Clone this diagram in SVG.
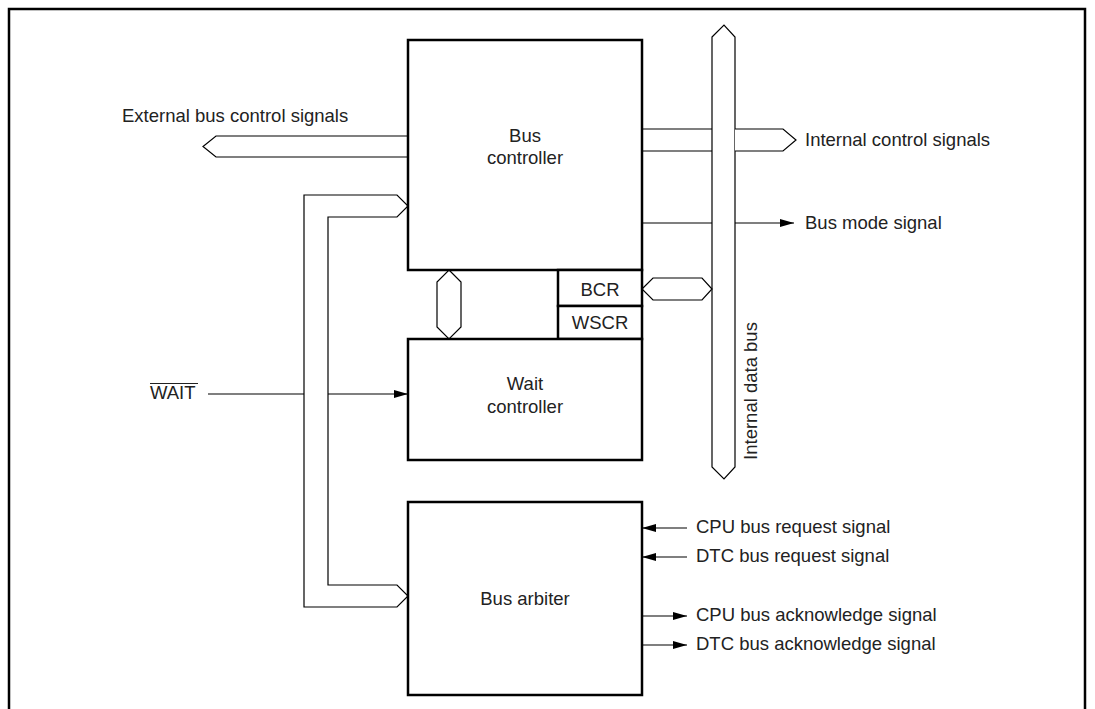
<svg xmlns="http://www.w3.org/2000/svg" width="1095" height="709" viewBox="0 0 1095 709">
<style>
  text { font-family: "Liberation Sans", Arial, sans-serif; font-size: 18.5px; fill: #222; }
  .box { fill: #fff; stroke: #000; stroke-width: 2.5; }
  .thin { fill: none; stroke: #000; stroke-width: 1.2; }
  .bus { fill: #fff; stroke: #000; stroke-width: 1.2; stroke-linejoin: miter; }
  .mid { text-anchor: middle; }
</style>
<defs>
  <marker id="ah" viewBox="0 0 14 8" refX="14" refY="4" markerWidth="14" markerHeight="8" markerUnits="userSpaceOnUse" orient="auto">
    <path d="M0,0 L14,4 L0,8 Z" fill="#000"/>
  </marker>
</defs>
<rect width="1095" height="709" fill="#fff"/>
<path d="M9,709 V9 H1085 V709" fill="none" stroke="#000" stroke-width="2.5"/>

<g id="connectors">
  <!-- internal data bus -->
  <path class="bus" d="M712,37 L724,25 L735,37 L735,467 L724,479 L712,467 Z"/>
  <!-- external bus control signals -->
  <path class="bus" d="M408,136 L216,136 L203,146.5 L216,157 L408,157"/>
  <!-- internal control signals -->
  <path class="thin" d="M642,129 H712 M642,151 H712"/>
  <path class="bus" d="M735,129 L783,129 L796,140 L783,151 L735,151"/>
  <!-- bus mode -->
  <path class="thin" d="M642,223 H712"/>
  <path class="thin" d="M735,223 H794" marker-end="url(#ah)"/>
  <!-- BCR link -->
  <path class="bus" d="M642,289 L653,278 L702,278 L712,289 L702,300 L653,300 Z"/>
  <!-- controller to wait controller -->
  <path class="bus" d="M449,270 L461,282 L461,327 L449,339 L437,327 L437,282 Z"/>
  <!-- WAIT distribution bus -->
  <path class="bus" d="M397,195 L304,195 L304,607 L397,607 L408,596 L397,585 L328,585 L328,217 L397,217 L408,206 Z"/>
  <!-- WAIT line -->
  <path class="thin" d="M208,394 H304"/>
  <path class="thin" d="M328,394 H408" marker-end="url(#ah)"/>
  <!-- arbiter signals -->
  <path class="thin" d="M687,528 H642" marker-end="url(#ah)"/>
  <path class="thin" d="M687,557 H642" marker-end="url(#ah)"/>
  <path class="thin" d="M642,616 H687" marker-end="url(#ah)"/>
  <path class="thin" d="M642,645 H687" marker-end="url(#ah)"/>
</g>

<g id="bus-controller">
  <rect class="box" x="408" y="40" width="234" height="230"/>
  <text class="mid" x="525" y="142">Bus</text>
  <text class="mid" x="525" y="164">controller</text>
</g>
<g id="bcr">
  <rect class="box" x="558" y="270" width="84" height="36"/>
  <text class="mid" x="600" y="296">BCR</text>
</g>
<g id="wscr">
  <rect class="box" x="558" y="306" width="84" height="33"/>
  <text class="mid" x="600" y="329">WSCR</text>
</g>
<g id="wait-controller">
  <rect class="box" x="408" y="339" width="234" height="121"/>
  <text class="mid" x="525" y="390">Wait</text>
  <text class="mid" x="525" y="413">controller</text>
</g>
<g id="bus-arbiter">
  <rect class="box" x="408" y="502" width="234" height="193"/>
  <text class="mid" x="525" y="605">Bus arbiter</text>
</g>

<g id="labels">
  <text x="122" y="122">External bus control signals</text>
  <text x="805" y="146">Internal control signals</text>
  <text x="805" y="229">Bus mode signal</text>
  <text x="757" y="391" class="mid" transform="rotate(-90 757 391)">Internal data bus</text>
  <text x="150" y="399">WAIT</text>
  <line x1="150" y1="383.5" x2="198" y2="383.5" stroke="#222" stroke-width="1.2"/>
  <text x="696" y="533">CPU bus request signal</text>
  <text x="696" y="562">DTC bus request signal</text>
  <text x="696" y="621">CPU bus acknowledge signal</text>
  <text x="696" y="650">DTC bus acknowledge signal</text>
</g>
</svg>
